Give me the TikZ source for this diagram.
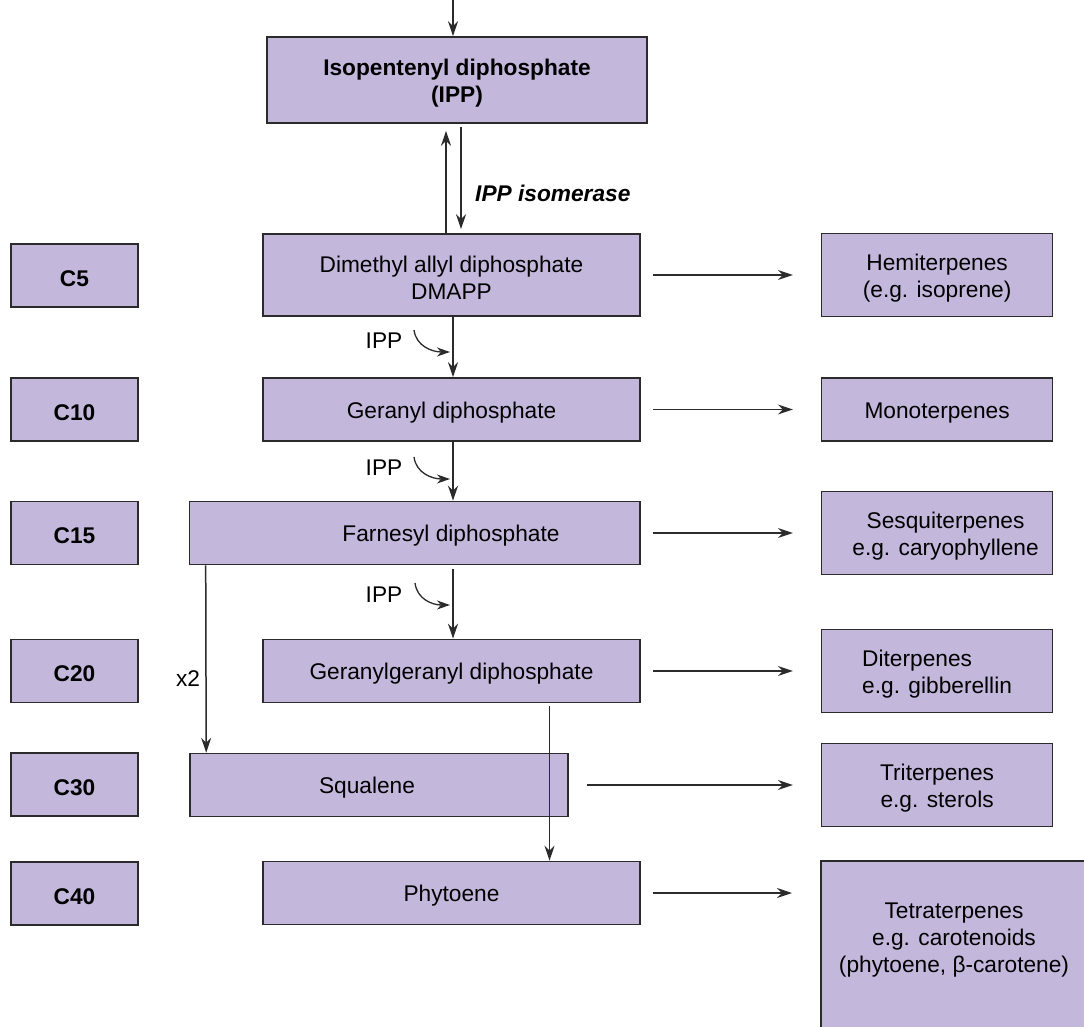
\documentclass[tikz,border=0pt]{standalone}
\usepackage{fontspec}
\setmainfont{Liberation Sans}
\usepackage{xcolor}
\usepackage[]{tikz}
\usetikzlibrary{positioning,calc}
\usetikzlibrary{arrows.meta}
\definecolor{paleLilac}{HTML}{C4B7DC}
\definecolor{edgeGrey}{HTML}{2B2B2B}
\newcommand{\lift}{\rule{0pt}{22pt}}
\tikzstyle{nodeLilac}  =[rectangle, fill=paleLilac, draw=edgeGrey, line width=1.6pt, inner sep=0pt, align=center, font=\fontsize{22.7}{27}\selectfont]
\tikzstyle{nodeCarbon} =[nodeLilac, minimum width=127pt, minimum height=63pt, font=\fontsize{22.7}{27}\selectfont\bfseries]
\tikzstyle{nodeMain}   =[nodeLilac, minimum width=377pt, minimum height=63pt]
\tikzstyle{nodeTerp}   =[nodeLilac, minimum width=231pt, minimum height=83pt]
\tikzstyle{labelTxt}   =[inner sep=0pt, font=\fontsize{22.7}{27}\selectfont]
\tikzstyle{arrDown}    =[draw=edgeGrey, line width=1.5pt, -{Stealth[length=15pt,width=10pt,inset=5pt]}]
\tikzstyle{arrHook}    =[draw=edgeGrey, line width=1.3pt, -{Stealth[length=13pt,width=9pt,inset=4pt]}]

\begin{document}
\begin{tikzpicture}[x=1pt, y=-1pt]
        \useasboundingbox (0,0) rectangle (1084,1027);
        \clip (0,0) rectangle (1084,1027);
        % main column
        \node[nodeLilac, minimum width=380pt, minimum height=86pt, font=\fontsize{22.7}{27}\selectfont\bfseries] (ipp) at (457,80) {\lift Isopentenyl diphosphate\\(IPP)};
        \node[nodeMain, minimum height=82pt] (dmapp) at (451.5,275) {\lift Dimethyl allyl diphosphate\\DMAPP};
        \node[nodeMain] (geranyl) at (451.5,409.5) {\lift Geranyl diphosphate};
        \node[nodeMain, minimum width=450.5pt] (farnesyl) at (414.75,533) {\lift\hspace*{72.5pt}Farnesyl diphosphate};
        \node[nodeMain] (ggpp) at (451.5,671) {\lift Geranylgeranyl diphosphate};
        \node[nodeMain, minimum width=378pt] (squalene) at (379,785) {\lift Squalene\hspace*{24pt}};
        \node[nodeMain] (phytoene) at (451.5,893) {\lift Phytoene};
        % carbon numbers
        \node[nodeCarbon] (c5) at (74.5,275.5) {\lift C5};
        \node[nodeCarbon] (c10) at (74.5,409.5) {\lift C10};
        \node[nodeCarbon] (c15) at (74.5,533) {\lift C15};
        \node[nodeCarbon] (c20) at (74.5,671) {\lift C20};
        \node[nodeCarbon] (c30) at (74.5,784.5) {\lift C30};
        \node[nodeCarbon] (c40) at (74.5,893.5) {\lift C40};
        % terpene classes
        \node[nodeTerp] (hemi) [right = 180pt of dmapp] {\lift Hemiterpenes\\(e.g. isoprene)};
        \node[nodeTerp, minimum height=63pt] (mono) [right = 180pt of geranyl] {\lift Monoterpenes};
        \node[nodeTerp] (sesqui) [right = 180pt of farnesyl] {\lift\hspace*{17pt}Sesquiterpenes\\\hspace*{17pt}e.g. caryophyllene};
        \node[nodeTerp, align=left] (di) [right = 180pt of ggpp] {\lift Diterpenes\\e.g. gibberellin};
        \node[nodeTerp] (tri) [right = 252pt of squalene] {\lift Triterpenes\\e.g. sterols};
        \node[nodeTerp, minimum width=290pt, minimum height=200pt, anchor=north west] (tetra) at (820,860) {};
        \node[labelTxt, align=center] (tetraText) at (954,940) {Tetraterpenes\\e.g. carotenoids\\(phytoene, β-carotene)};
        % isomerase
        \coordinate (entry) at (453,0);
        \draw[arrDown] (entry) -- (entry |- ipp.north);
        \draw[arrDown, shorten >=7pt] ([xshift=-5.5pt]dmapp.north) -- ([xshift=-5.5pt]dmapp.north |- ipp.south);
        \draw[arrDown, shorten <=3pt, shorten >=4pt] ([xshift=9.5pt]dmapp.north |- ipp.south) -- ([xshift=9.5pt]dmapp.north);
        \node[labelTxt, font=\fontsize{22.7}{27}\selectfont\bfseries\itshape, anchor=base west] (isomerase) at (475,202) {IPP isomerase};
        % chain elongation
        \draw[arrDown] ([xshift=1.5pt]dmapp.south) -- ([xshift=1.5pt]geranyl.north);
        \draw[arrDown] ([xshift=1.5pt]geranyl.south) -- ([xshift=1.5pt]geranyl.south |- farnesyl.north);
        \draw[arrDown, shorten <=4pt] ([xshift=1.5pt]ggpp.north |- farnesyl.south) -- ([xshift=1.5pt]ggpp.north);
        \draw[arrDown] ([xshift=17pt]farnesyl.south west) -- ([xshift=17pt]squalene.north west);
        \draw[arrDown, shorten <=3pt] ([xshift=98pt]ggpp.south) -- ([xshift=98pt]phytoene.north);
        \node[labelTxt] (twice) at (188,679) {x2};
        % IPP additions
        \node[labelTxt] (ippA) at (384,341) {IPP};
        \node[labelTxt] (ippB) at (384,468) {IPP};
        \node[labelTxt] (ippC) at (384,595) {IPP};
        \coordinate (hookA1) at (414,330);
        \coordinate (hookA2) at (450,352);
        \coordinate (hookB1) at (414,457);
        \coordinate (hookB2) at (450,479);
        \coordinate (hookC1) at (415,583);
        \coordinate (hookC2) at (450,605);
        \draw[arrHook] (hookA1) .. controls +(2,16) and +(-18,0) .. (hookA2);
        \draw[arrHook] (hookB1) .. controls +(2,16) and +(-18,0) .. (hookB2);
        \draw[arrHook] (hookC1) .. controls +(2,16) and +(-18,0) .. (hookC2);
        % to terpene classes
        \draw[arrDown, shorten <=12pt, shorten >=28pt] (dmapp.east) -- (dmapp.east -| hemi.west);
        \draw[arrDown, shorten <=12pt, shorten >=28pt] (geranyl.east) -- (geranyl.east -| mono.west);
        \draw[arrDown, shorten <=12pt, shorten >=28pt] (farnesyl.east) -- (farnesyl.east -| sesqui.west);
        \draw[arrDown, shorten <=12pt, shorten >=28pt] (ggpp.east) -- (ggpp.east -| di.west);
        \draw[arrDown, shorten <=18pt, shorten >=28pt] (squalene.east) -- (squalene.east -| tri.west);
        \draw[arrDown, shorten <=12pt, shorten >=28pt] (phytoene.east) -- (phytoene.east -| tetra.west);
      \end{tikzpicture}
\end{document}
